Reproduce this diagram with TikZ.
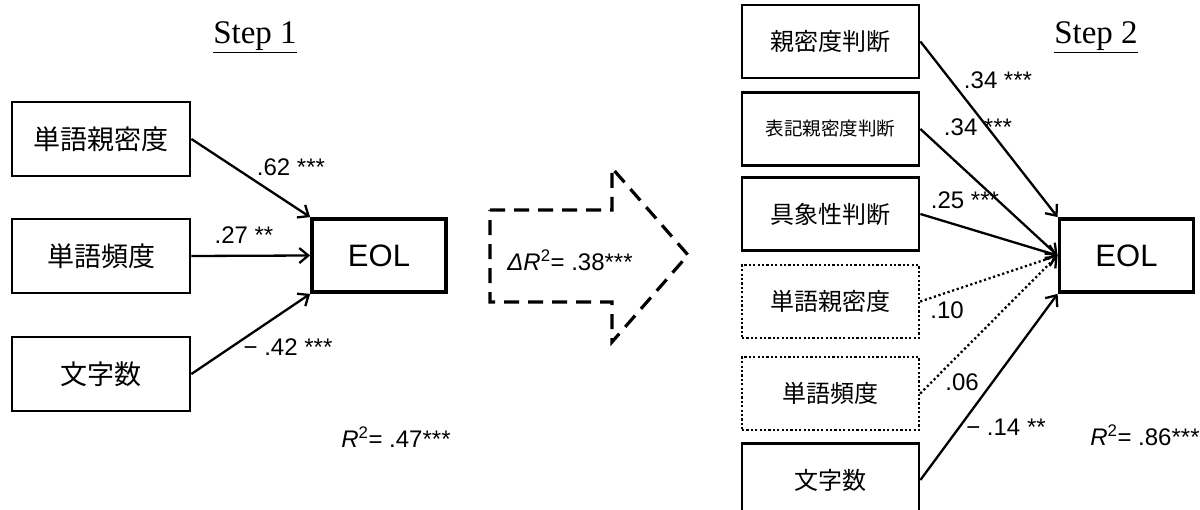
\documentclass[tikz,border=0pt]{standalone}
\usepackage{fontspec}
\setmainfont{Liberation Sans}
\newfontfamily\cjk{Noto Sans CJK JP}
\newfontfamily\serifx{Liberation Serif}
\usetikzlibrary{arrows.meta}
\begin{document}
\begin{tikzpicture}[x=1pt,y=-1pt,
  box/.style={draw, line width=2.8pt, minimum width=178pt, minimum height=74pt, inner sep=0pt, font=\cjk\fontsize{27}{30}\selectfont},
  boxs/.style={box, minimum width=177pt, minimum height=73pt, font=\cjk\fontsize{24}{28}\selectfont},
  dotbox/.style={boxs, line width=2.4pt, dash pattern=on 2.2pt off 2.2pt},
  eol/.style={draw, line width=3.8pt, minimum width=134pt, minimum height=73pt, inner sep=0pt, font=\fontsize{31}{34}\selectfont},
  conn/.style={line width=2.3pt, -{Straight Barb[length=9pt,width=15pt]}},
  dotconn/.style={conn, dash pattern=on 2.2pt off 2.6pt},
  lab/.style={font=\fontsize{24}{26}\selectfont, inner sep=0pt},
  ttl/.style={font=\serifx\fontsize{33}{36}\selectfont, inner sep=0pt}]
\clip (0,0) rectangle (1200,510);
% Step 1
\node[ttl] (t1) at (255,37) {\underline{Step 1}};
\node[box] (a1) at (101,139) {単語親密度};
\node[box] (a2) at (101,256) {単語頻度};
\node[box] (a3) at (101,374) {文字数};
\node[eol] (e1) at (379,255.5) {EOL};
\draw[conn] (a1.east) -- (e1.north west);
\draw[conn] (a2.east) -- (e1.west);
\draw[conn] (a3.east) -- (e1.south west);
\node[lab] (l1) at (291,167) {.62 ***};
\node[lab] (l2) at (244,235) {.27 **};
\node[lab] (l3) at (288,347) {− .42 ***};
\node[lab] (r1) at (396,437) {\textit{R}\textsuperscript{2}= .47***};
% middle arrow
\draw[line width=3.2pt, dash pattern=on 15pt off 9pt]
  (490,210) -- (612,210) -- (612,168) -- (688,255) -- (612,342) -- (612,302) -- (490,302) -- cycle;
\node[lab] (dr) at (570,260) {\textit{ΔR}\textsuperscript{2}= .38***};
% Step 2
\node[ttl] (t2) at (1096,37) {\underline{Step 2}};
\node[boxs] (c1) at (830.5,41.5) {親密度判断};
\node[boxs, font=\cjk\fontsize{18.5}{22}\selectfont] (c2) at (830.5,129) {表記親密度判断};
\node[boxs] (c3) at (830.5,214) {具象性判断};
\node[dotbox] (c4) at (830.5,301.5) {単語親密度};
\node[dotbox] (c5) at (830.5,393.5) {単語頻度};
\node[boxs] (c6) at (830.5,480) {文字数};
\node[eol] (e2) at (1126.5,255.5) {EOL};
\draw[conn] (c1.east) -- (e2.north west);
\draw[conn] (c2.east) -- (e2.west);
\draw[conn] (c3.east) -- (e2.west);
\draw[dotconn] (c4.east) -- (e2.west);
\draw[dotconn] (c5.east) -- (e2.west);
\draw[conn] (c6.east) -- (e2.south west);
\node[lab] (m1) at (998,80) {.34 ***};
\node[lab] (m2) at (978,127) {.34 ***};
\node[lab] (m3) at (965,200) {.25 ***};
\node[lab] (m4) at (947,310) {.10};
\node[lab] (m5) at (962,382) {.06};
\node[lab] (m6) at (1006,427) {− .14 **};
\node[lab] (r2) at (1145,435) {\textit{R}\textsuperscript{2}= .86***};
\end{tikzpicture}
\end{document}
